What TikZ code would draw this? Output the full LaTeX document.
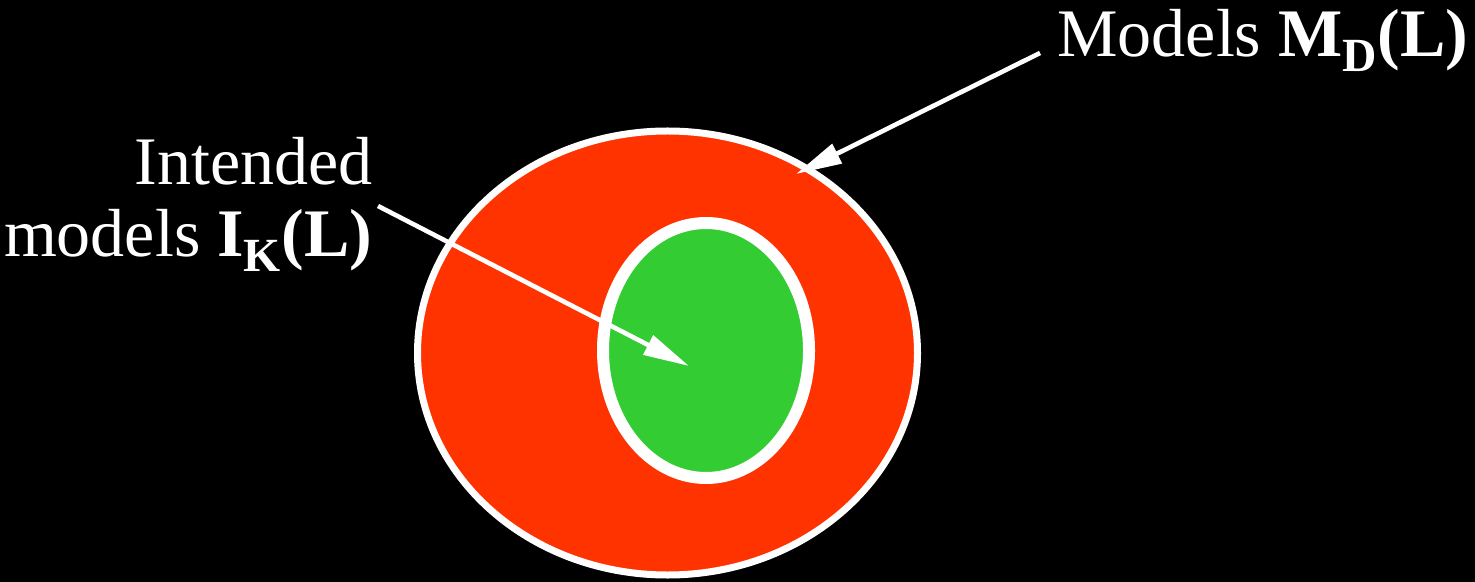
\documentclass[tikz,border=0pt]{standalone}
\usepackage{fontspec}
\setmainfont{Liberation Serif}
\usetikzlibrary{shapes.geometric,arrows.meta}

\definecolor{setred}{HTML}{FF3300}
\definecolor{setgreen}{HTML}{33CC33}

\tikzset{
  setlabel/.style={text=white, inner sep=0pt, font=\fontsize{34}{36}\selectfont},
  pointer/.style={draw=white, line width=2.3pt, -{Triangle[length=23pt, width=10.5pt]}}
}

\begin{document}
\begin{tikzpicture}[x=0.5pt, y=-0.5pt]

% Background
\fill[black] (0,0) rectangle (1475,582);

% === MODEL SETS ===
\node[ellipse, draw=white, line width=3.5pt, fill=setred, inner sep=0pt,
      minimum width=250pt, minimum height=222pt] (allmodels) at (667.5,353) {};
\node[ellipse, draw=white, line width=6pt, fill=setgreen, inner sep=0pt,
      minimum width=103pt, minimum height=127.5pt] (intmodels) at (706,350.5) {};

% === LABELS ===
\node[setlabel, anchor=base west] (mdlabel) at (1057,57)
  {Models \textbf{M\textsubscript{D}(L)}};
\node[setlabel, anchor=base east, align=right] (iklabel) at (373,257)
  {Intended\\models \textbf{I\textsubscript{K}(L)}};

% === POINTERS ===
\coordinate (mdtail) at (1040,53);
\coordinate (mdtip) at (796,174);
\coordinate (iktail) at (378,206);
\coordinate (iktip) at (689,366);
\draw[pointer] (mdtail) -- (mdtip);
\draw[pointer] (iktail) -- (iktip);

\end{tikzpicture}
\end{document}
